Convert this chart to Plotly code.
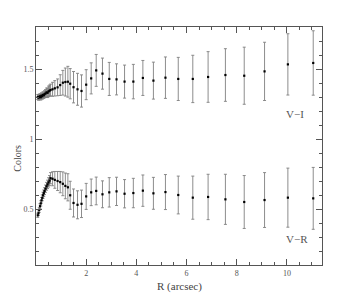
import plotly.graph_objects as go

# Radius (arcsec), shared by both colour profiles
radius = [0.07, 0.10, 0.13, 0.16, 0.19, 0.22, 0.25, 0.28, 0.31, 0.34, 0.38, 0.42,
          0.46, 0.50, 0.54, 0.58, 0.66, 0.75, 0.86, 0.965, 1.07, 1.17, 1.27, 1.363,
          1.496, 1.655, 1.814, 2.0, 2.2, 2.4, 2.65, 2.92, 3.21, 3.53, 3.88, 4.26,
          4.68, 5.16, 5.67, 6.25, 6.86, 7.55, 8.30, 9.11, 10.04, 11.05]

v_i = [1.300, 1.295, 1.300, 1.305, 1.298, 1.310, 1.305, 1.315, 1.312, 1.320, 1.325, 1.333,
       1.330, 1.340, 1.345, 1.350, 1.355, 1.362, 1.369, 1.385, 1.402, 1.407, 1.409, 1.395,
       1.370, 1.355, 1.343, 1.388, 1.433, 1.490, 1.467, 1.429, 1.426, 1.410, 1.410, 1.436,
       1.417, 1.438, 1.429, 1.429, 1.443, 1.457, 1.452, 1.483, 1.533, 1.543]
v_i_err = [0.018, 0.018, 0.019, 0.019, 0.020, 0.020, 0.021, 0.022, 0.023, 0.025, 0.028, 0.031,
           0.034, 0.038, 0.040, 0.042, 0.050, 0.055, 0.060, 0.074, 0.088, 0.100, 0.110, 0.108,
           0.112, 0.114, 0.115, 0.107, 0.111, 0.114, 0.111, 0.118, 0.111, 0.118, 0.123, 0.125,
           0.132, 0.148, 0.154, 0.169, 0.181, 0.188, 0.204, 0.208, 0.219, 0.230]

v_r = [0.455, 0.470, 0.493, 0.520, 0.540, 0.562, 0.580, 0.598, 0.613, 0.628, 0.645, 0.662,
       0.676, 0.690, 0.703, 0.720, 0.716, 0.708, 0.700, 0.692, 0.680, 0.665, 0.655, 0.598,
       0.543, 0.530, 0.537, 0.590, 0.619, 0.629, 0.605, 0.619, 0.626, 0.609, 0.614, 0.631,
       0.612, 0.621, 0.600, 0.581, 0.586, 0.569, 0.550, 0.564, 0.581, 0.576]
v_r_err = [0.015, 0.016, 0.017, 0.018, 0.019, 0.020, 0.021, 0.022, 0.023, 0.024, 0.026, 0.028,
           0.030, 0.033, 0.036, 0.040, 0.050, 0.060, 0.068, 0.076, 0.085, 0.092, 0.097, 0.100,
           0.100, 0.100, 0.098, 0.093, 0.095, 0.099, 0.096, 0.105, 0.101, 0.101, 0.105, 0.112,
           0.114, 0.125, 0.135, 0.154, 0.162, 0.179, 0.189, 0.196, 0.211, 0.221]

series_names = ["V−I", "V−R"]

FONT = "Liberation Serif, DejaVu Serif, serif"
ERR_COLOR = "#808080"

fig = go.Figure()
for name, vals, errs in [(series_names[0], v_i, v_i_err), (series_names[1], v_r, v_r_err)]:
    fig.add_trace(go.Scatter(
        x=radius, y=vals, mode="markers", name=name,
        marker=dict(symbol="square", size=2.2, color="black", line=dict(width=0)),
        error_y=dict(type="data", array=errs, visible=True, color=ERR_COLOR,
                     thickness=0.9, width=1.5),
        showlegend=False,
    ))

axis_common = dict(
    showgrid=False, zeroline=False, showline=True, linecolor="#555", linewidth=1,
    mirror="allticks", ticks="inside", tickcolor="#555", tickwidth=1,
    tickfont=dict(family=FONT, size=8, color="#555"),
)

fig.update_xaxes(
    range=[0, 11.4], tickmode="array", tickvals=[2, 4, 6, 8, 10],
    ticktext=["2", "4", "6", "8", "10"], ticklen=6,
    minor=dict(dtick=0.5, tick0=0, ticks="inside", ticklen=3, tickcolor="#555", showgrid=False),
    **axis_common,
)
fig.update_yaxes(
    range=[0.1, 1.8], tickmode="array", tickvals=[0.5, 1.0, 1.5],
    ticktext=["0.5", "1", "1.5"], ticklen=6,
    minor=dict(dtick=0.1, tick0=0, ticks="inside", ticklen=3, tickcolor="#555", showgrid=False),
    **axis_common,
)

fig.add_annotation(x=10.32, y=1.18, xref="x", yref="y", text=series_names[0],
                   showarrow=False, font=dict(family=FONT, size=11, color="#555"))
fig.add_annotation(x=10.4, y=0.286, xref="x", yref="y", text=series_names[1],
                   showarrow=False, font=dict(family=FONT, size=11, color="#555"))
fig.add_annotation(x=0.5, y=-0.092, xref="paper", yref="paper", yanchor="middle",
                   text="R (arcsec)", showarrow=False,
                   font=dict(family=FONT, size=11, color="#444"))
fig.add_annotation(x=-0.09, y=0.45, xref="paper", yref="paper", textangle=-90,
                   text="Colors", showarrow=False,
                   font=dict(family=FONT, size=10, color="#444"))

# the page adds an 8px body margin, so the figure is shrunk to fit the window
fig.update_layout(
    width=325, height=286,
    margin=dict(l=28, r=11, t=19, b=29),
    paper_bgcolor="white", plot_bgcolor="white",
)

fig.write_html("out.html")
